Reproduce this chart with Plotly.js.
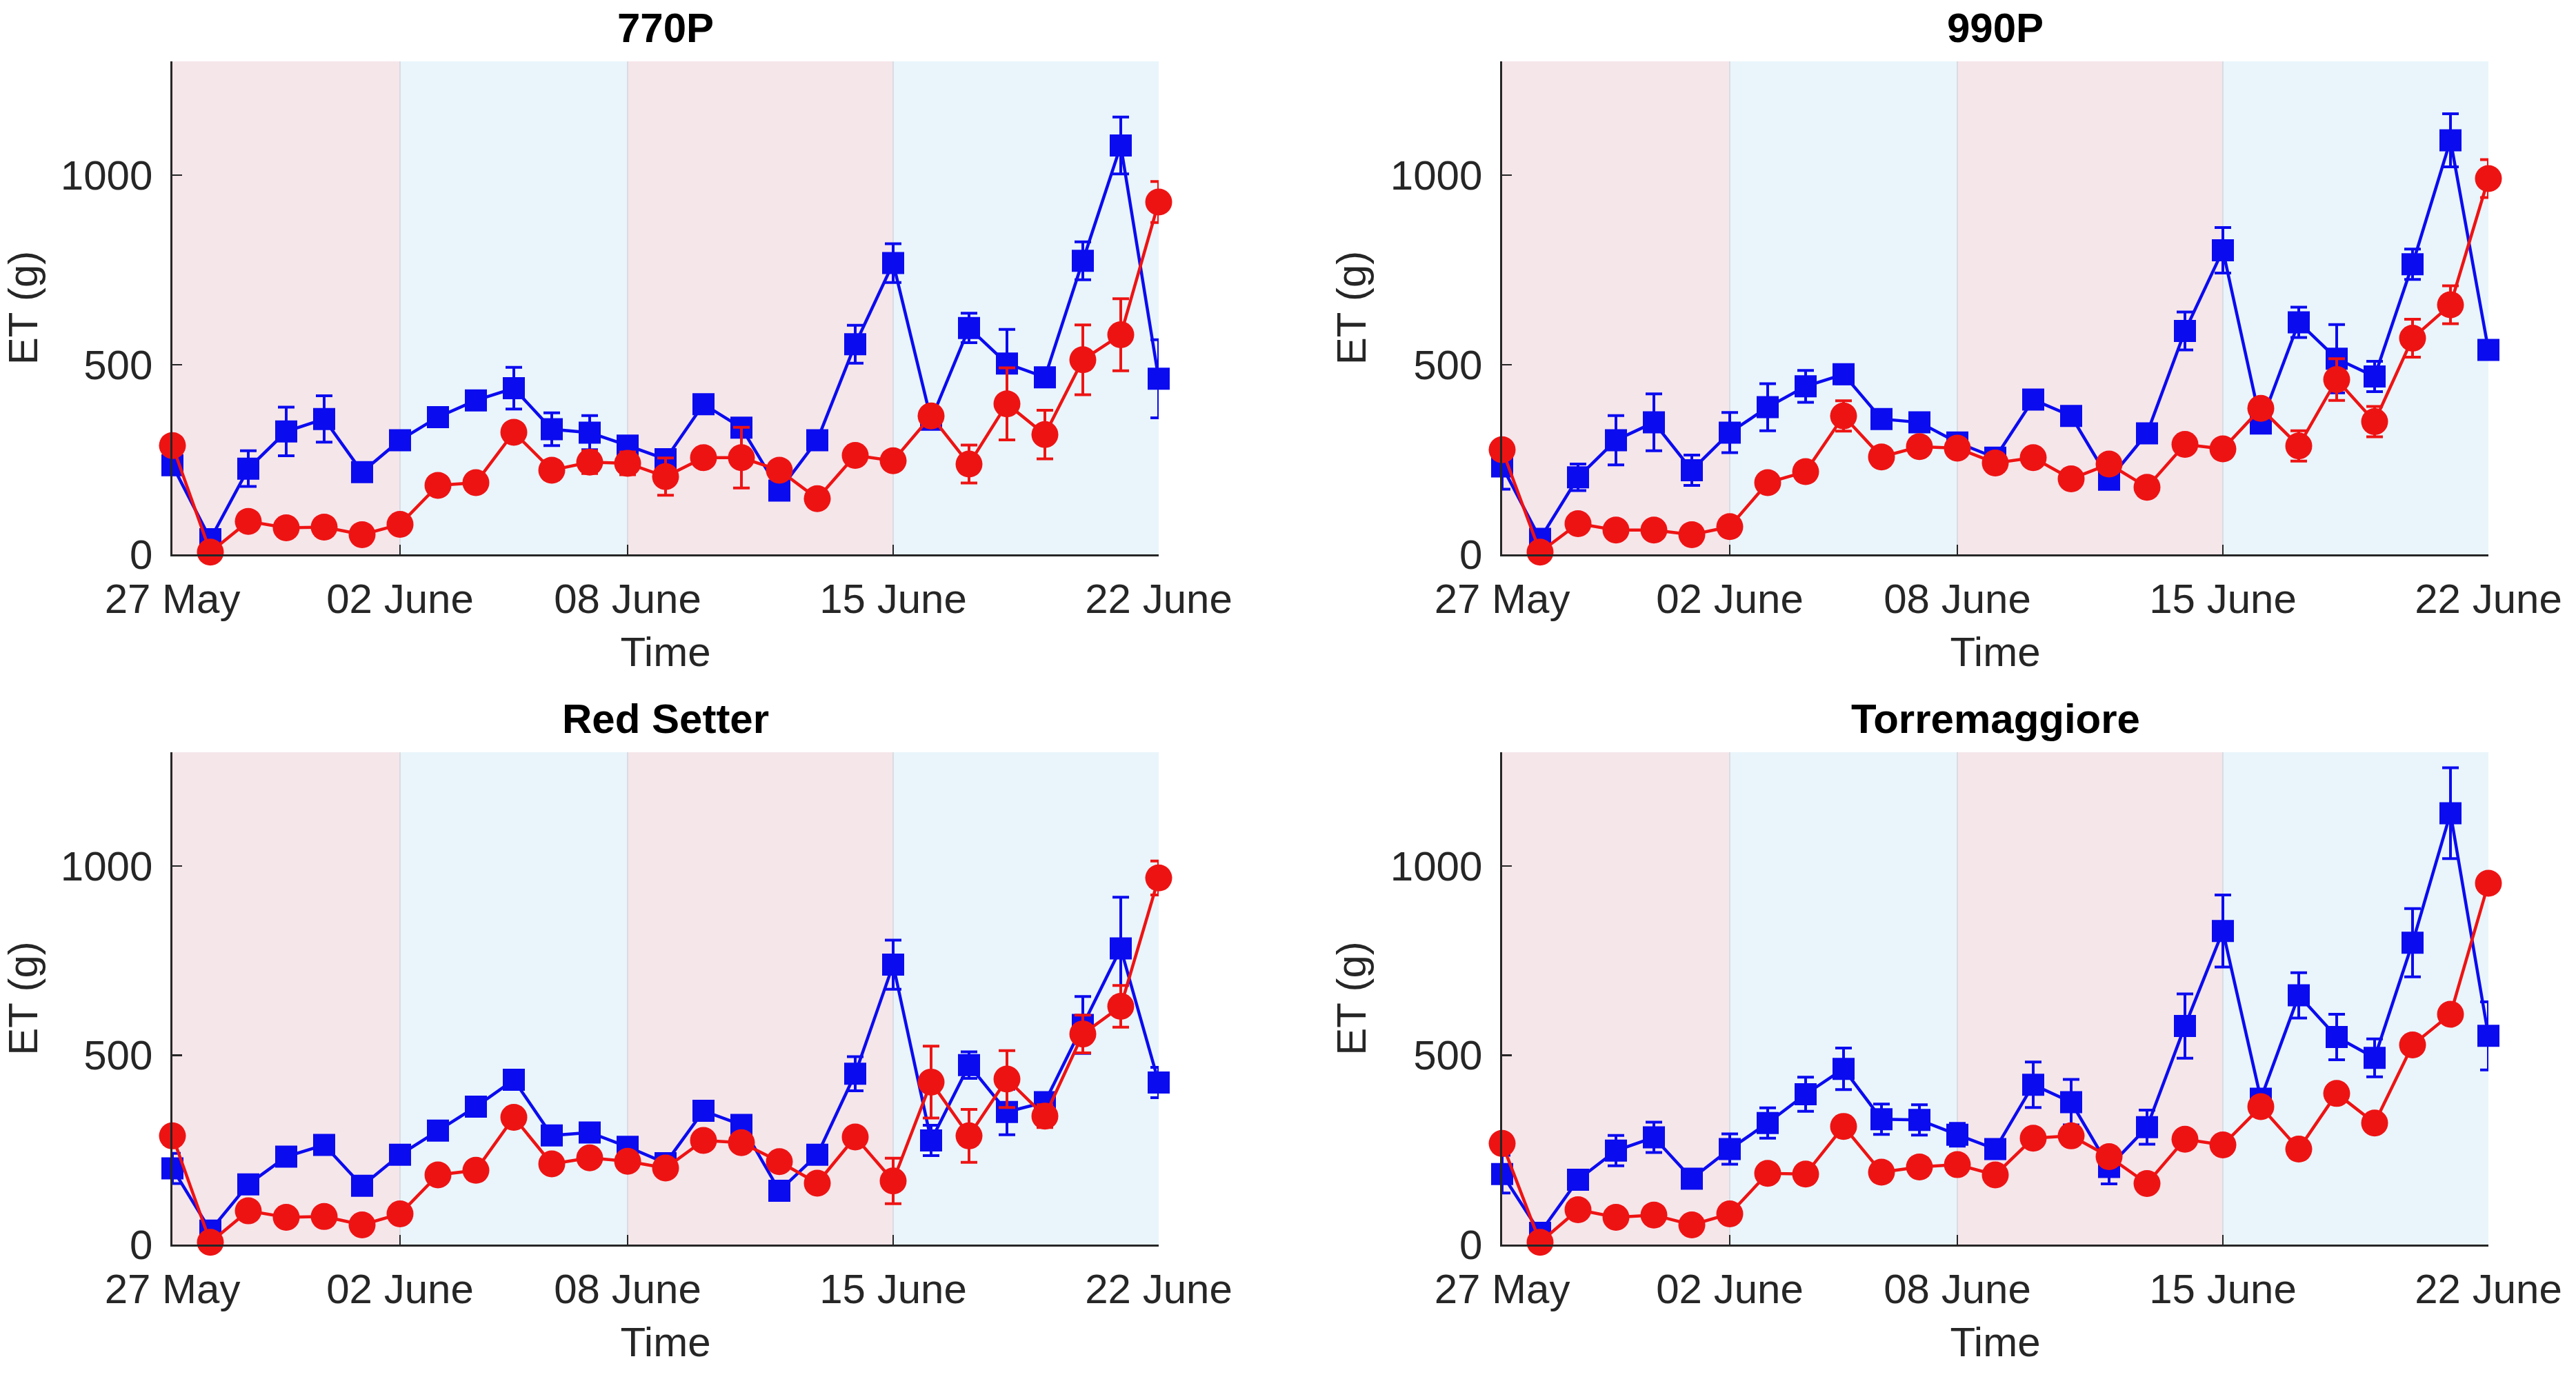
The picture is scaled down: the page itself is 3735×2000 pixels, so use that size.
<!DOCTYPE html>
<html>
<head>
<meta charset="utf-8">
<script src="https://cdn.plot.ly/plotly-3.0.1.min.js"></script>
<style>
  html, body { margin: 0; padding: 0; background: #fff; }
  #chart { width: 3735px; height: 2000px; }
</style>
</head>
<body>
<div id="chart"></div>
<script>
const days = [
  "2019-05-27", "2019-05-28", "2019-05-29", "2019-05-30", "2019-05-31",
  "2019-06-01", "2019-06-02", "2019-06-03", "2019-06-04", "2019-06-05",
  "2019-06-06", "2019-06-07", "2019-06-08", "2019-06-09", "2019-06-10",
  "2019-06-11", "2019-06-12", "2019-06-13", "2019-06-14", "2019-06-15",
  "2019-06-16", "2019-06-17", "2019-06-18", "2019-06-19", "2019-06-20",
  "2019-06-21", "2019-06-22"
];

const tickDays = ["2019-05-27", "2019-06-02", "2019-06-08", "2019-06-15", "2019-06-22"];
const tickLabels = ["27 May", "02 June", "08 June", "15 June", "22 June"];

// alternating shaded periods
const periodStarts = ["2019-05-27", "2019-06-02", "2019-06-08", "2019-06-15"];
const periodEnds = ["2019-06-02", "2019-06-08", "2019-06-15", "2019-06-22"];
const periodColors = ["#f5e6ea", "#e9f5fb", "#f5e6ea", "#e9f5fb"];

const panelTitles = ["770P", "990P", "Red Setter", "Torremaggiore"];

// 770P
const blue770 = [235, 40, 226, 324, 357, 217, 301, 362, 406, 438, 330, 321, 287,
  251, 396, 334, 168, 301, 554, 768, 355, 597, 503, 467, 774, 1078, 463];
const blueErr770 = [15, 10, 47, 64, 61, 12, 15, 12, 15, 55, 43, 45, 15,
  15, 15, 12, 20, 12, 50, 51, 15, 39, 90, 12, 50, 75, 103];
const red770 = [287, 6, 87, 70, 72, 52, 79, 182, 189, 322, 222, 243, 240,
  205, 255, 255, 222, 147, 261, 247, 365, 238, 397, 316, 513, 579, 929];
const redErr770 = [10, 5, 8, 8, 8, 8, 8, 10, 10, 15, 25, 30, 30,
  49, 10, 80, 10, 8, 10, 8, 12, 50, 95, 64, 92, 95, 54];

// 990P
const blue990 = [232, 41, 203, 301, 348, 222, 321, 388, 443, 475, 357, 348, 295,
  255, 408, 365, 197, 319, 589, 802, 345, 612, 516, 469, 765, 1092, 539];
const blueErr990 = [60, 10, 35, 65, 75, 40, 53, 62, 42, 25, 12, 12, 12,
  12, 12, 12, 20, 12, 50, 60, 12, 40, 90, 40, 40, 70, 20];
const red990 = [276, 6, 81, 64, 64, 52, 73, 189, 218, 365, 257, 284, 280,
  241, 255, 199, 238, 177, 290, 278, 385, 286, 461, 350, 570, 658, 991];
const redErr990 = [10, 5, 8, 8, 8, 8, 8, 10, 10, 40, 10, 10, 10,
  10, 10, 10, 10, 8, 10, 10, 12, 40, 55, 40, 50, 50, 50];

// Red Setter
const blueRS = [201, 37, 159, 232, 263, 155, 237, 301, 364, 435, 288, 296, 258,
  215, 353, 316, 142, 237, 451, 739, 275, 474, 350, 376, 580, 782, 428];
const blueErrRS = [40, 10, 12, 12, 12, 12, 12, 12, 12, 15, 12, 12, 12,
  12, 15, 12, 12, 12, 45, 65, 40, 35, 60, 15, 75, 135, 40];
const redRS = [287, 6, 89, 72, 74, 52, 81, 184, 196, 336, 213, 229, 220,
  202, 275, 269, 219, 162, 284, 168, 429, 287, 437, 339, 556, 629, 968];
const redErrRS = [10, 5, 8, 8, 8, 8, 8, 10, 10, 10, 10, 10, 10,
  10, 10, 10, 10, 8, 10, 60, 95, 70, 75, 30, 50, 55, 45];

// Torremaggiore
const blueTM = [186, 31, 171, 248, 283, 174, 252, 321, 397, 464, 331, 329, 290,
  252, 422, 376, 205, 310, 577, 828, 385, 658, 548, 493, 797, 1139, 551];
const blueErrTM = [50, 10, 15, 40, 40, 15, 40, 40, 45, 55, 40, 40, 30,
  15, 60, 60, 45, 45, 85, 95, 15, 60, 60, 50, 90, 120, 90];
const redTM = [267, 6, 92, 72, 78, 52, 81, 188, 186, 312, 191, 205, 211,
  184, 281, 287, 232, 161, 278, 263, 364, 252, 399, 321, 527, 608, 954];
const redErrTM = [8, 5, 8, 8, 8, 8, 8, 8, 8, 8, 8, 8, 8,
  8, 8, 8, 8, 8, 8, 8, 25, 8, 8, 8, 8, 8, 8];

const blueSeries = [blue770, blue990, blueRS, blueTM];
const blueErrors = [blueErr770, blueErr990, blueErrRS, blueErrTM];
const redSeries = [red770, red990, redRS, redTM];
const redErrors = [redErr770, redErr990, redErrRS, redErrTM];

const BLUE = "#0b0bef";
const RED = "#ee1313";
const AXIS_COLOR = "#262626";
const FONT = "Liberation Sans, Arial, sans-serif";
const FIG_W = 3735;
const FIG_H = 2000;

// panel boxes in pixels: [left, right, top, bottom]
const panelBoxes = [
  [250, 1680, 89, 804],
  [2178, 3608, 89, 804],
  [250, 1680, 1091, 1805],
  [2178, 3608, 1091, 1805]
];

const data = [];
const shapes = [];
const annotations = [];
const layout = {
  width: FIG_W,
  height: FIG_H,
  margin: { t: 0, r: 0, b: 0, l: 0 },
  paper_bgcolor: "#ffffff",
  plot_bgcolor: "rgba(0,0,0,0)",
  showlegend: false,
  font: { family: FONT, size: 60, color: AXIS_COLOR }
};

panelBoxes.forEach((box, i) => {
  const n = i + 1;
  const xName = n === 1 ? "xaxis" : `xaxis${n}`;
  const yName = n === 1 ? "yaxis" : `yaxis${n}`;
  const xRef = n === 1 ? "x" : `x${n}`;
  const yRef = n === 1 ? "y" : `y${n}`;

  layout[xName] = {
    domain: [box[0] / FIG_W, box[1] / FIG_W],
    anchor: yRef,
    type: "date",
    range: ["2019-05-27", "2019-06-22"],
    tickmode: "array",
    tickvals: tickDays,
    ticktext: tickLabels,
    ticks: "inside",
    ticklen: 14,
    tickwidth: 2.5,
    tickcolor: AXIS_COLOR,
    showline: true,
    linecolor: AXIS_COLOR,
    linewidth: 2.7,
    showgrid: false,
    zeroline: false,
    ticklabelstandoff: 10,
    tickfont: { family: FONT, size: 60, color: AXIS_COLOR },
    title: { text: "Time", standoff: 24, font: { family: FONT, size: 60, color: AXIS_COLOR } }
  };
  layout[yName] = {
    domain: [1 - box[3] / FIG_H, 1 - box[2] / FIG_H],
    anchor: xRef,
    range: [0, 1300],
    tickvals: [0, 500, 1000],
    ticks: "inside",
    ticklen: 14,
    tickwidth: 2.5,
    tickcolor: AXIS_COLOR,
    showline: true,
    linecolor: AXIS_COLOR,
    linewidth: 2.7,
    showgrid: false,
    zeroline: false,
    ticklabelstandoff: 14,
    tickfont: { family: FONT, size: 60, color: AXIS_COLOR },
    title: { text: "ET (g)", standoff: 16, font: { family: FONT, size: 60, color: AXIS_COLOR } }
  };

  periodStarts.forEach((start, k) => {
    shapes.push({
      type: "rect",
      xref: xRef,
      yref: yRef,
      x0: start,
      x1: periodEnds[k],
      y0: 0,
      y1: 1300,
      fillcolor: periodColors[k],
      line: { width: 0 },
      layer: "below"
    });
    if (k > 0) {
      shapes.push({
        type: "line",
        xref: xRef,
        yref: yRef,
        x0: start,
        x1: start,
        y0: 0,
        y1: 1300,
        line: { color: "#d2d6dc", width: 1.5 },
        layer: "below"
      });
    }
  });

  annotations.push({
    text: `<b>${panelTitles[i]}</b>`,
    xref: "paper",
    yref: "paper",
    x: (box[0] + box[1]) / 2 / FIG_W,
    y: 1 - (box[2] - 49) / FIG_H,
    xanchor: "center",
    yanchor: "middle",
    showarrow: false,
    font: { family: FONT, size: 60, color: "#000000" }
  });

  data.push({
    x: days,
    y: blueSeries[i],
    xaxis: xRef,
    yaxis: yRef,
    type: "scatter",
    mode: "lines+markers",
    line: { color: BLUE, width: 4.5 },
    marker: { color: BLUE, symbol: "square", size: 32 },
    error_y: { type: "data", array: blueErrors[i], color: BLUE, thickness: 4, width: 12 },
    cliponaxis: false
  });
  data.push({
    x: days,
    y: redSeries[i],
    xaxis: xRef,
    yaxis: yRef,
    type: "scatter",
    mode: "lines+markers",
    line: { color: RED, width: 4.5 },
    marker: { color: RED, symbol: "circle", size: 39 },
    error_y: { type: "data", array: redErrors[i], color: RED, thickness: 4, width: 12 },
    cliponaxis: false
  });
});

layout.shapes = shapes;
layout.annotations = annotations;

Plotly.newPlot("chart", data, layout, { displayModeBar: false, staticPlot: true });
</script>
</body>
</html>
